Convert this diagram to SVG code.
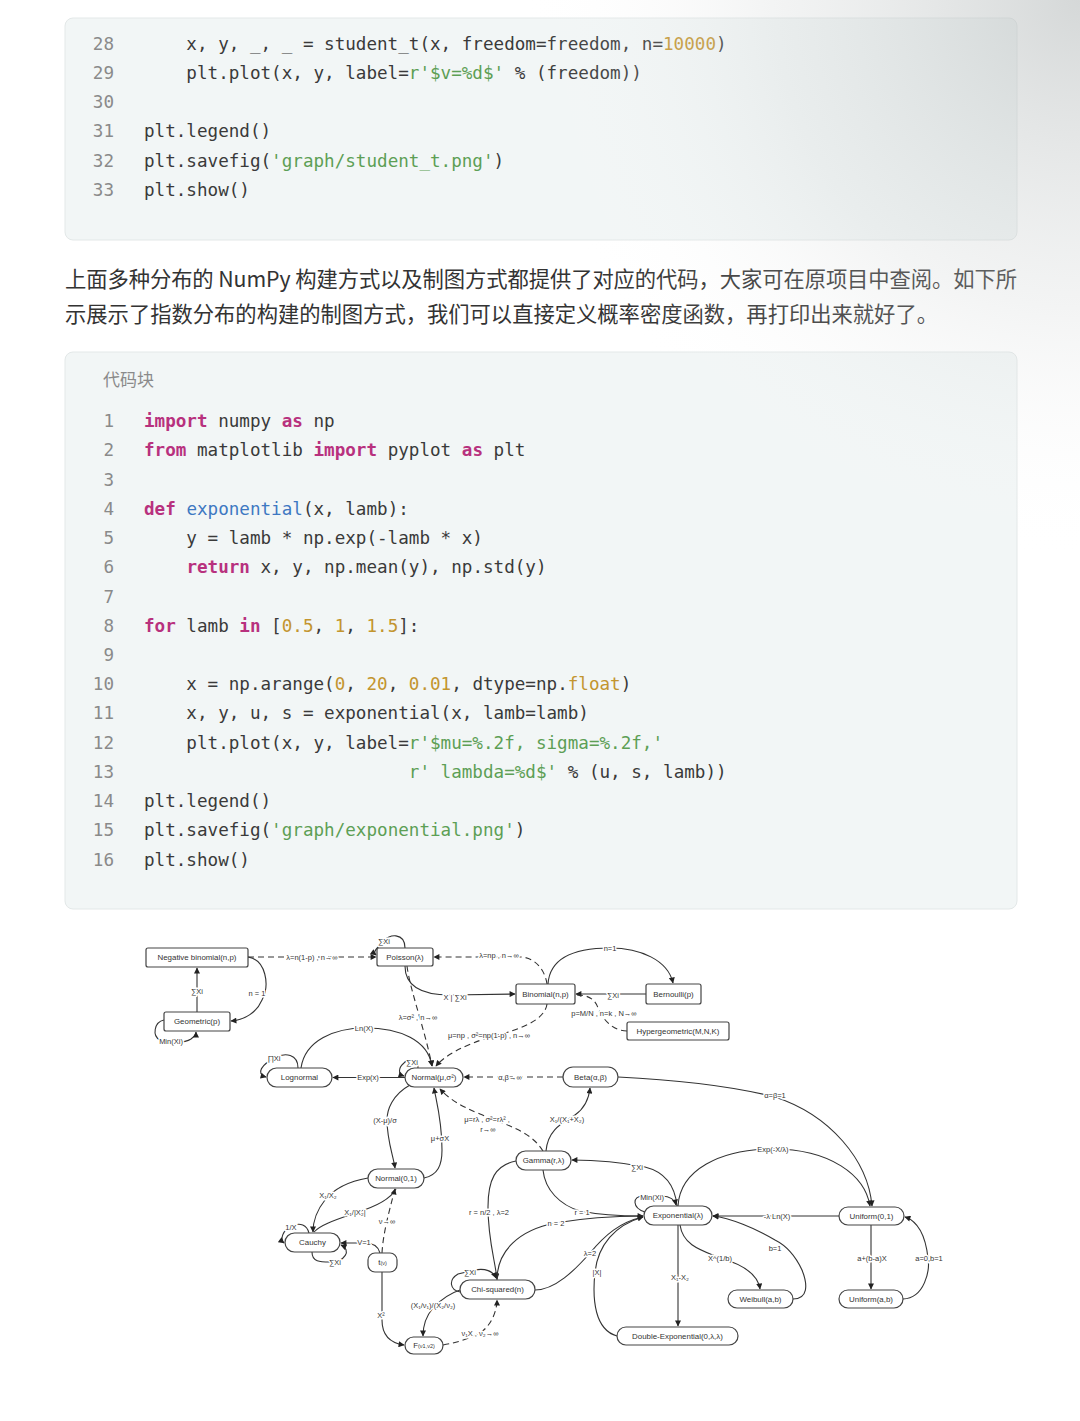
<svg xmlns="http://www.w3.org/2000/svg" width="1080" height="1421" viewBox="0 0 1080 1421">
<defs>
<style>
.blk{fill:#f2f6f6;stroke:#e3e8e8;stroke-width:1}
.code{font-family:"DejaVu Sans Mono","Liberation Mono",monospace;font-size:17.6px;fill:#3a3a3a;white-space:pre}
.ln{font-family:"DejaVu Sans Mono","Liberation Mono",monospace;font-size:17.6px;fill:#8a8a8a;text-anchor:end}
.kw{fill:#b8317e;font-weight:bold}
.fn{fill:#3e78c2}
.num{fill:#c3952f}
.str{fill:#5d9f55}
.para{font-family:"Noto Sans CJK SC","Noto Sans",sans-serif;font-size:21.3px;fill:#333}
.cap{font-family:"Noto Sans CJK SC","Noto Sans",sans-serif;font-size:17px;fill:#8a8a8a}
.nd{fill:#fff;stroke:#444;stroke-width:1.2}
.nt{font-family:"Liberation Sans","DejaVu Sans",sans-serif;font-size:7.9px;fill:#333;text-anchor:middle;dominant-baseline:central}
.e{fill:none;stroke:#333;stroke-width:1.1}
.d{stroke-dasharray:6 4}
.el{font-family:"Liberation Sans","DejaVu Sans",sans-serif;font-size:7.5px;fill:#333;text-anchor:middle;dominant-baseline:central;stroke:#fff;stroke-width:3;paint-order:stroke;stroke-linejoin:round}
</style>
<marker id="ah" viewBox="0 0 10 10" refX="9" refY="5" markerWidth="7" markerHeight="6" markerUnits="userSpaceOnUse" orient="auto"><path d="M0,0 L10,5 L0,10 z" fill="#222"/></marker>
<radialGradient id="shade" cx="1080" cy="0" r="560" gradientUnits="userSpaceOnUse">
<stop offset="0" stop-color="#b9bebe" stop-opacity="0.6"/>
<stop offset="0.55" stop-color="#cfd3d3" stop-opacity="0.25"/>
<stop offset="1" stop-color="#ffffff" stop-opacity="0"/>
</radialGradient>
</defs>
<rect width="1080" height="1421" fill="#fff"/>

<g id="code-block-1">
<rect class="blk" x="65" y="18" width="952" height="222" rx="8"/>
<text class="ln" x="114" y="50">28</text>
<text class="ln" x="114" y="79">29</text>
<text class="ln" x="114" y="108">30</text>
<text class="ln" x="114" y="137">31</text>
<text class="ln" x="114" y="167">32</text>
<text class="ln" x="114" y="196">33</text>
<text class="code" x="144" y="50" xml:space="preserve">    x, y, _, _ = student_t(x, freedom=freedom, n=<tspan class="num">10000</tspan>)</text>
<text class="code" x="144" y="79" xml:space="preserve">    plt.plot(x, y, label=<tspan class="str">r'$v=%d$'</tspan> % (freedom))</text>
<text class="code" x="144" y="137" xml:space="preserve">plt.legend()</text>
<text class="code" x="144" y="167" xml:space="preserve">plt.savefig(<tspan class="str">'graph/student_t.png'</tspan>)</text>
<text class="code" x="144" y="196" xml:space="preserve">plt.show()</text>
</g>

<g id="paragraph">
<text class="para" x="65" y="287" textLength="952" lengthAdjust="spacing">上面多种分布的 NumPy 构建方式以及制图方式都提供了对应的代码，大家可在原项目中查阅。如下所</text>
<text class="para" x="65" y="322" textLength="873" lengthAdjust="spacing">示展示了指数分布的构建的制图方式，我们可以直接定义概率密度函数，再打印出来就好了。</text>
</g>

<g id="code-block-2">
<rect class="blk" x="65" y="352" width="952" height="557" rx="8"/>
<text class="cap" x="103" y="386">代码块</text>
<text class="ln" x="114" y="427">1</text>
<text class="ln" x="114" y="456">2</text>
<text class="ln" x="114" y="486">3</text>
<text class="ln" x="114" y="515">4</text>
<text class="ln" x="114" y="544">5</text>
<text class="ln" x="114" y="573">6</text>
<text class="ln" x="114" y="603">7</text>
<text class="ln" x="114" y="632">8</text>
<text class="ln" x="114" y="661">9</text>
<text class="ln" x="114" y="690">10</text>
<text class="ln" x="114" y="719">11</text>
<text class="ln" x="114" y="749">12</text>
<text class="ln" x="114" y="778">13</text>
<text class="ln" x="114" y="807">14</text>
<text class="ln" x="114" y="836">15</text>
<text class="ln" x="114" y="866">16</text>
<text class="code" x="144" y="427" xml:space="preserve"><tspan class="kw">import</tspan> numpy <tspan class="kw">as</tspan> np</text>
<text class="code" x="144" y="456" xml:space="preserve"><tspan class="kw">from</tspan> matplotlib <tspan class="kw">import</tspan> pyplot <tspan class="kw">as</tspan> plt</text>
<text class="code" x="144" y="515" xml:space="preserve"><tspan class="kw">def</tspan> <tspan class="fn">exponential</tspan>(x, lamb):</text>
<text class="code" x="144" y="544" xml:space="preserve">    y = lamb * np.exp(-lamb * x)</text>
<text class="code" x="144" y="573" xml:space="preserve">    <tspan class="kw">return</tspan> x, y, np.mean(y), np.std(y)</text>
<text class="code" x="144" y="632" xml:space="preserve"><tspan class="kw">for</tspan> lamb <tspan class="kw">in</tspan> [<tspan class="num">0.5</tspan>, <tspan class="num">1</tspan>, <tspan class="num">1.5</tspan>]:</text>
<text class="code" x="144" y="690" xml:space="preserve">    x = np.arange(<tspan class="num">0</tspan>, <tspan class="num">20</tspan>, <tspan class="num">0.01</tspan>, dtype=np.<tspan class="num">float</tspan>)</text>
<text class="code" x="144" y="719" xml:space="preserve">    x, y, u, s = exponential(x, lamb=lamb)</text>
<text class="code" x="144" y="749" xml:space="preserve">    plt.plot(x, y, label=<tspan class="str">r'$mu=%.2f, sigma=%.2f,'</tspan></text>
<text class="code" x="144" y="778" xml:space="preserve">                         <tspan class="str">r' lambda=%d$'</tspan> % (u, s, lamb))</text>
<text class="code" x="144" y="807" xml:space="preserve">plt.legend()</text>
<text class="code" x="144" y="836" xml:space="preserve">plt.savefig(<tspan class="str">'graph/exponential.png'</tspan>)</text>
<text class="code" x="144" y="866" xml:space="preserve">plt.show()</text>
</g>

<g id="connectors">
<path class="e d" d="M248,957 L376,957" marker-end="url(#ah)"/>
<path class="e" d="M248,957 C266,960 270,985 262,1000 C257,1012 245,1020 231,1021" marker-end="url(#ah)"/>
<path class="e" d="M197,1012 L197,968" marker-end="url(#ah)"/>
<path class="e" d="M164,1020 C154,1022 152,1036 160,1040 C168,1044 185,1043 191,1039 C195,1036 196,1034 196,1032" marker-end="url(#ah)"/>
<path class="e" d="M405,948 C405,932 388,934 384,941 C378,947 372,952 376,955" marker-end="url(#ah)"/>
<path class="e" d="M405,966 C405,985 420,995 450,995 L515,994" marker-end="url(#ah)"/>
<path class="e d" d="M407,966 C410,990 425,1030 432,1066" marker-end="url(#ah)"/>
<path class="e d" d="M547,984 C545,970 535,957 520,957 L434,957" marker-end="url(#ah)"/>
<path class="e" d="M548,984 C550,955 580,948 610,948 C640,948 668,960 673,983" marker-end="url(#ah)"/>
<path class="e" d="M646,994 L576,994" marker-end="url(#ah)"/>
<path class="e d" d="M627,1031 C612,1031 602,1018 598,1008 C595,999 588,995 577,995"/>
<path class="e d" d="M547,1004 C545,1020 520,1030 490,1037 C465,1045 445,1055 436,1066" marker-end="url(#ah)"/>
<path class="e" d="M301,1068 C305,1040 335,1028 365,1028 C400,1028 428,1040 432,1066" marker-end="url(#ah)"/>
<path class="e" d="M298,1068 C298,1054 285,1052 275,1058 C262,1064 255,1074 266,1077" marker-end="url(#ah)"/>
<path class="e" d="M405,1077.5 L333,1077.5" marker-end="url(#ah)"/>
<path class="e" d="M418,1068 C418,1058 408,1058 404,1063 C398,1068 398,1074 404,1076" marker-end="url(#ah)"/>
<path class="e d" d="M563,1077 L464,1077" marker-end="url(#ah)"/>
<path class="e" d="M410,1085 C392,1095 387,1110 387,1120 C387,1140 393,1155 395,1168" marker-end="url(#ah)"/>
<path class="e" d="M424,1178 C438,1175 442,1165 442,1150 C442,1120 436,1100 434,1088" marker-end="url(#ah)"/>
<path class="e d" d="M543,1151 C530,1130 505,1125 480,1114 C460,1106 448,1098 440,1089" marker-end="url(#ah)"/>
<path class="e" d="M546,1151 C548,1128 565,1122 575,1115 C585,1108 589,1098 590,1088" marker-end="url(#ah)"/>
<path class="e" d="M618,1077 C680,1080 735,1087 775,1097 C830,1115 868,1160 872,1206" marker-end="url(#ah)"/>
<path class="e" d="M678,1206 C680,1170 720,1149 773,1149 C830,1149 865,1175 870,1206" marker-end="url(#ah)"/>
<path class="e" d="M677,1206 C675,1185 665,1172 645,1167 C620,1162 590,1160 572,1160" marker-end="url(#ah)"/>
<path class="e" d="M645,1212 C632,1208 632,1196 643,1196 L662,1196 C670,1196 675,1200 676,1205" marker-end="url(#ah)"/>
<path class="e" d="M543,1170 C545,1190 560,1205 580,1211 C600,1215 620,1216 643,1216" marker-end="url(#ah)"/>
<path class="e" d="M516,1161 C495,1165 488,1180 488,1207 C488,1240 495,1260 497,1279" marker-end="url(#ah)"/>
<path class="e" d="M497,1280 C497,1250 520,1230 555,1223 C590,1217 620,1216 643,1216"/>
<path class="e" d="M535,1290 C555,1290 575,1270 590,1253 C605,1235 620,1222 643,1217"/>
<path class="e" d="M617,1336 C595,1330 592,1300 595,1272 C598,1245 615,1225 643,1217" marker-end="url(#ah)"/>
<path class="e" d="M678,1225 L678,1326" marker-end="url(#ah)"/>
<path class="e" d="M680,1225 C683,1245 700,1250 720,1258 C745,1265 758,1275 760,1289" marker-end="url(#ah)"/>
<path class="e" d="M793,1299 C808,1299 808,1285 802,1270 C795,1255 785,1245 775,1240 C755,1228 730,1218 713,1216" marker-end="url(#ah)"/>
<path class="e" d="M839,1216 L713,1216" marker-end="url(#ah)"/>
<path class="e" d="M871,1225 L871,1289" marker-end="url(#ah)"/>
<path class="e" d="M903,1299 C925,1298 930,1270 928,1258 C926,1240 920,1222 905,1217" marker-end="url(#ah)"/>
<path class="e" d="M368,1178 C345,1182 333,1190 325,1200 C317,1210 313,1220 313,1232" marker-end="url(#ah)"/>
<path class="e" d="M396,1189 C390,1200 375,1207 355,1213 C335,1220 320,1225 314,1232"/>
<path class="e d" d="M382,1253 C383,1235 388,1215 395,1189" marker-end="url(#ah)"/>
<path class="e" d="M380,1253 C378,1245 372,1243 365,1243 L341,1243" marker-end="url(#ah)"/>
<path class="e" d="M309,1233 C307,1225 300,1222 292,1226 C282,1230 280,1240 284,1243" marker-end="url(#ah)"/>
<path class="e" d="M312,1252 C312,1262 320,1262 330,1262 C345,1262 352,1250 341,1245" marker-end="url(#ah)"/>
<path class="e" d="M382,1272 L382,1320 C382,1335 390,1343 404,1345" marker-end="url(#ah)"/>
<path class="e" d="M460,1290 C445,1295 438,1303 433,1308 C427,1315 423,1325 423,1336" marker-end="url(#ah)"/>
<path class="e d" d="M443,1345 C460,1342 470,1338 480,1333 C492,1325 497,1310 497,1300" marker-end="url(#ah)"/>
<path class="e" d="M460,1292 C450,1290 448,1280 458,1274 L475,1270 C485,1268 493,1271 496,1278" marker-end="url(#ah)"/>

<text class="el" x="312" y="957">λ=n(1-p) , n→∞</text>
<text class="el" x="257" y="993">n = 1</text>
<text class="el" x="197" y="991">∑Xi</text>
<text class="el" x="171" y="1041">Min(Xi)</text>
<text class="el" x="384" y="941">∑Xi</text>
<text class="el" x="455" y="997">X | ∑Xi</text>
<text class="el" x="418" y="1017">λ=σ² , n→∞</text>
<text class="el" x="499" y="955">λ=np , n→∞</text>
<text class="el" x="610" y="948">n=1</text>
<text class="el" x="613" y="995">∑Xi</text>
<text class="el" x="604" y="1013">p=M/N , n=k , N→∞</text>
<text class="el" x="489" y="1035">μ=np , σ²=np(1-p) , n→∞</text>
<text class="el" x="364" y="1028">Ln(X)</text>
<text class="el" x="274" y="1058">∏Xi</text>
<text class="el" x="368" y="1077.5">Exp(x)</text>
<text class="el" x="412" y="1062">∑Xi</text>
<text class="el" x="510" y="1077">α,β→∞</text>
<text class="el" x="385" y="1120">(X-μ)/σ</text>
<text class="el" x="440" y="1138">μ+σX</text>
<text class="el" x="487" y="1119">μ=rλ , σ²=rλ² ,</text>
<text class="el" x="488" y="1129">r→∞</text>
<text class="el" x="567" y="1119">X₁/(X₁+X₂)</text>
<text class="el" x="775" y="1095">α=β=1</text>
<text class="el" x="773" y="1149">Exp(-X/λ)</text>
<text class="el" x="637" y="1167">∑Xi</text>
<text class="el" x="652" y="1197">Min(Xi)</text>
<text class="el" x="582" y="1212">r = 1</text>
<text class="el" x="489" y="1212">r = n/2 , λ=2</text>
<text class="el" x="556" y="1223">n = 2</text>
<text class="el" x="590" y="1253">λ=2</text>
<text class="el" x="597" y="1272">|X|</text>
<text class="el" x="680" y="1277">X₁-X₂</text>
<text class="el" x="720" y="1258">X^(1/b)</text>
<text class="el" x="775" y="1248">b=1</text>
<text class="el" x="777" y="1216">-λ Ln(X)</text>
<text class="el" x="872" y="1258">a+(b-a)X</text>
<text class="el" x="929" y="1258">a=0,b=1</text>
<text class="el" x="328" y="1195">X₁/X₂</text>
<text class="el" x="355" y="1212">X₁/|X₂|</text>
<text class="el" x="387" y="1221">ν→∞</text>
<text class="el" x="364" y="1242">V=1</text>
<text class="el" x="291" y="1227">1/X</text>
<text class="el" x="335" y="1262">∑Xi</text>
<text class="el" x="381" y="1315">X²</text>
<text class="el" x="433" y="1305">(X₁/ν₁)/(X₂/ν₂)</text>
<text class="el" x="480" y="1333">ν₁X , ν₂→∞</text>
<text class="el" x="470" y="1272">∑Xi</text>
</g>

<g id="node-negbin"><rect class="nd" x="146" y="948" width="102" height="19" rx="2"/><text class="nt" x="197" y="957.5">Negative binomial(n,p)</text></g>
<g id="node-poisson"><rect class="nd" x="377" y="948" width="56" height="18" rx="2"/><text class="nt" x="405" y="957">Poisson(λ)</text></g>
<g id="node-geometric"><rect class="nd" x="164" y="1012" width="66" height="19" rx="2"/><text class="nt" x="197" y="1021.5">Geometric(p)</text></g>
<g id="node-binomial"><rect class="nd" x="516" y="984" width="59" height="20" rx="2"/><text class="nt" x="545.5" y="994">Binomial(n,p)</text></g>
<g id="node-bernoulli"><rect class="nd" x="646" y="984" width="55" height="20" rx="2"/><text class="nt" x="673.5" y="994">Bernoulli(p)</text></g>
<g id="node-hypergeometric"><rect class="nd" x="627" y="1022" width="102" height="18" rx="2"/><text class="nt" x="678" y="1031">Hypergeometric(M,N,K)</text></g>
<g id="node-lognormal"><rect class="nd" x="267" y="1068" width="65" height="19" rx="9.5"/><text class="nt" x="299.5" y="1077.5">Lognormal</text></g>
<g id="node-normal"><rect class="nd" x="405" y="1068" width="58" height="19" rx="9.5"/><text class="nt" x="434" y="1077.5">Normal(μ,σ²)</text></g>
<g id="node-beta"><rect class="nd" x="563" y="1067" width="55" height="20" rx="10"/><text class="nt" x="590.5" y="1077">Beta(α,β)</text></g>
<g id="node-normal01"><rect class="nd" x="368" y="1169" width="56" height="19" rx="9.5"/><text class="nt" x="396" y="1178.5">Normal(0,1)</text></g>
<g id="node-gamma"><rect class="nd" x="516" y="1151" width="55" height="19" rx="9.5"/><text class="nt" x="543.5" y="1160.5">Gamma(r,λ)</text></g>
<g id="node-exponential"><rect class="nd" x="644" y="1206" width="68" height="19" rx="9.5"/><text class="nt" x="678" y="1215.5">Exponential(λ)</text></g>
<g id="node-uniform01"><rect class="nd" x="839" y="1207" width="65" height="18" rx="9"/><text class="nt" x="871.5" y="1216">Uniform(0,1)</text></g>
<g id="node-cauchy"><rect class="nd" x="285" y="1233" width="55" height="19" rx="9.5"/><text class="nt" x="312.5" y="1242.5">Cauchy</text></g>
<g id="node-t"><rect class="nd" x="368" y="1253" width="29" height="19" rx="7"/><text class="nt" x="382.5" y="1262.5">t<tspan font-size="5.5">(ν)</tspan></text></g>
<g id="node-chisquared"><rect class="nd" x="460" y="1280" width="75" height="19" rx="9.5"/><text class="nt" x="497.5" y="1289.5">Chi-squared(n)</text></g>
<g id="node-f"><rect class="nd" x="405" y="1337" width="38" height="17" rx="8.5"/><text class="nt" x="424" y="1345.5">F<tspan font-size="5.5">(ν1,ν2)</tspan></text></g>
<g id="node-weibull"><rect class="nd" x="728" y="1290" width="65" height="18" rx="9"/><text class="nt" x="760.5" y="1299">Weibull(a,b)</text></g>
<g id="node-uniformab"><rect class="nd" x="839" y="1290" width="64" height="18" rx="9"/><text class="nt" x="871" y="1299">Uniform(a,b)</text></g>
<g id="node-doubleexp"><rect class="nd" x="617" y="1327" width="121" height="18" rx="9"/><text class="nt" x="677.5" y="1336">Double-Exponential(0,λ,λ)</text></g>

<rect width="1080" height="1421" fill="url(#shade)" pointer-events="none"/>
</svg>
